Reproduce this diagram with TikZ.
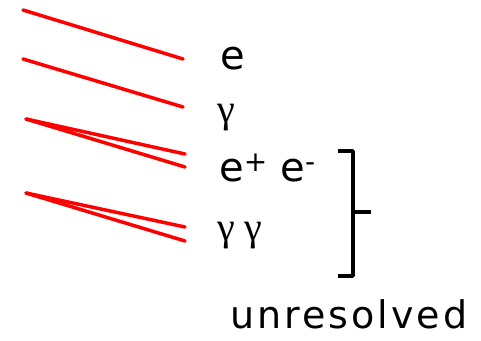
\documentclass[tikz,border=0pt]{standalone}
\usepackage{fontspec}
\setmainfont{DejaVu Sans}
\newfontfamily\grk{Liberation Serif}
\newfontfamily\wide[LetterSpace=8]{DejaVu Sans}
\begin{document}
\begin{tikzpicture}[x=1pt,y=-1pt,
  track/.style={red,line width=3.5pt,line cap=round},
  lbl/.style={anchor=base west,inner sep=0pt,text=black},
  brk/.style={black,line width=3.5pt,line join=round}]
\useasboundingbox (0,0) rectangle (481,340);
% tracks
\coordinate (a1) at (23,10);  \coordinate (b1) at (183,59);
\coordinate (a2) at (23,59);  \coordinate (b2) at (183,107);
\coordinate (a3) at (26,119); \coordinate (b3) at (185,154); \coordinate (c3) at (185,167);
\coordinate (a4) at (26,193); \coordinate (b4) at (185,227); \coordinate (c4) at (185,241);
\draw[track] (a1) -- (b1);
\draw[track] (a2) -- (b2);
\draw[track] (a3) -- (b3);
\draw[track] (a3) -- (c3);
\draw[track] (a4) -- (b4);
\draw[track] (a4) -- (c4);
% labels
\node[lbl,font=\fontsize{40}{40}\selectfont] (le) at (220,69) {e};
\node[lbl,font=\grk\fontsize{40}{40}\selectfont] (lg) at (217,122) {γ};
\node[lbl,font=\fontsize{40}{40}\selectfont] (lee) at (219,181) {e\textsuperscript{+} e\textsuperscript{-}};
\node[lbl,font=\grk\fontsize{40}{40}\selectfont] (lgg) at (217,240) {γ γ};
\node[lbl,font=\wide\fontsize{38}{38}\selectfont] (lu) at (230,328) {unresolved};
% bracket
\coordinate (k1) at (338,151); \coordinate (k2) at (353,151);
\coordinate (k3) at (353,276); \coordinate (k4) at (338,276);
\coordinate (km) at (353,212); \coordinate (kt) at (371,212);
\draw[brk] (k1) -- (k2) -- (k3) -- (k4);
\draw[brk] (km) -- (kt);
\end{tikzpicture}
\end{document}
